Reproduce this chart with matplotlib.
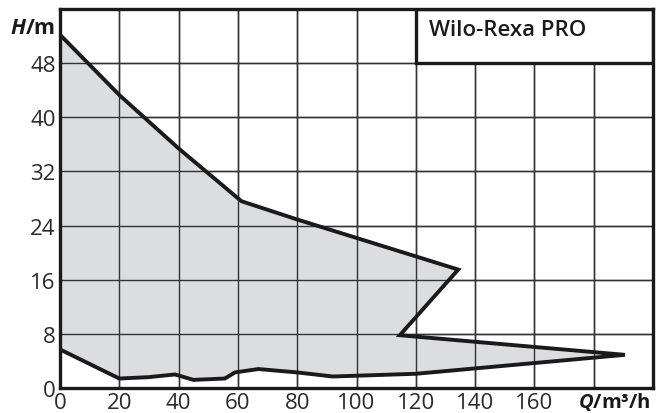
import matplotlib.pyplot as plt
from matplotlib.patches import Polygon, Rectangle

plt.rcParams['font.family'] = ['Open Sans', 'DejaVu Sans']
plt.rcParams['mathtext.fontset'] = 'custom'
plt.rcParams['mathtext.rm'] = 'Open Sans'
plt.rcParams['mathtext.it'] = 'Open Sans:italic:bold'
plt.rcParams['mathtext.bf'] = 'Open Sans:bold'

# operating range outline (Q in m3/h, H in m), going round the envelope
q_env = [0, 20, 40, 61.2, 80, 134.3, 114.6, 190.5, 120, 92, 80, 66.9, 59, 55.6, 45, 38.8, 29.8, 20, 0]
h_env = [52.2, 43.3, 35.4, 27.6, 24.9, 17.5, 7.8, 4.9, 2.1, 1.7, 2.3, 2.8, 2.3, 1.4, 1.2, 2.0, 1.6, 1.4, 5.7]

x_ticks = [0, 20, 40, 60, 80, 100, 120, 140, 160, 180, 200]
x_labels = ['0', '20', '40', '60', '80', '100', '120', '140', '160', '', '']
y_ticks = [0, 8, 16, 24, 32, 40, 48, 56]
y_labels = ['0', '8', '16', '24', '32', '40', '48', '']

ink = '#1a1a1a'

fig = plt.figure(figsize=(6.65, 4.14), dpi=100)
ax = fig.add_axes([0.0902, 0.0604, 0.8918, 0.9154])
ax.set_xlim(0, 200)
ax.set_ylim(0, 56)

ax.set_xticks(x_ticks)
ax.set_xticklabels(x_labels)
ax.set_yticks(y_ticks)
ax.set_yticklabels(y_labels)
ax.tick_params(length=0, labelsize=16, colors='#2a2a2a')
ax.tick_params(axis='y', pad=3)
ax.tick_params(axis='x', pad=3)
ax.grid(True, color='#333333', linewidth=1.0)
ax.set_axisbelow(True)
for s in ax.spines.values():
    s.set_linewidth(2.4)
    s.set_color(ink)
    s.set_zorder(5)

pts = list(zip(q_env, h_env))
ax.add_patch(Polygon(pts, closed=True, facecolor='#dcdde0', edgecolor='none', zorder=1.5))
ax.add_patch(Polygon(pts, closed=True, facecolor='none', edgecolor=ink, linewidth=2.8,
                     joinstyle='miter', zorder=3))
# grid over the fill
for x in x_ticks[1:-1]:
    ax.axvline(x, color='#333333', linewidth=1.0, zorder=2)
for y in y_ticks[1:-1]:
    ax.axhline(y, color='#333333', linewidth=1.0, zorder=2)

# name box in the top right corner
ax.add_patch(Rectangle((120, 48), 80, 8, facecolor='white', edgecolor=ink, linewidth=2.4, zorder=4))
ax.text(124.3, 52.9, 'Wilo-Rexa PRO', fontsize=16, fontweight='semibold', color=ink,
        va='center', ha='left', zorder=6)

fig.text(0.083, 0.93, r'$\mathit{H}$/m', fontsize=15.5, fontweight='bold', color=ink,
         ha='right', va='center')
fig.text(0.978, 0.028, r'$\mathit{Q}$/m³/h', fontsize=14.5, fontweight='bold', color=ink,
         ha='right', va='center')

fig.savefig('out.png', dpi=100)
